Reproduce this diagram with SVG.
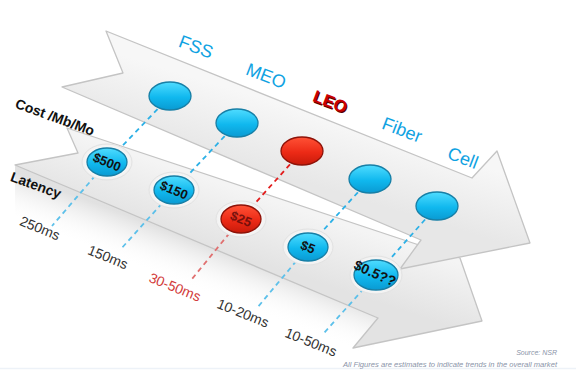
<svg xmlns="http://www.w3.org/2000/svg" width="576" height="381" viewBox="0 0 576 381">
<defs>
<style>
text{font-family:"Liberation Sans",Arial,sans-serif;dominant-baseline:central;text-anchor:middle}
.tech{font-size:18px;fill:#0fa2e2}
.leo{font-size:17px;font-weight:bold;fill:#cc0000}
.leos{font-size:17px;font-weight:bold;fill:#5a0000}
.row{font-size:14px;font-weight:bold;fill:#111}
.lat{font-size:14px;fill:#333;stroke:#fff;stroke-width:3;paint-order:stroke;stroke-linejoin:round}
.latr{font-size:14px;fill:#d23a3a;stroke:#fff;stroke-width:3;paint-order:stroke;stroke-linejoin:round}
.cost{font-size:13px;font-weight:bold;fill:#111}
.src{font-size:7px;font-style:italic;fill:#8a94a8;text-anchor:end;dominant-baseline:auto}
.arrow{stroke:#c4c4c4;stroke-width:1.3;stroke-linejoin:round}
.bb{fill:url(#gBlue);stroke:#177fa6;stroke-width:1.3}
.br{fill:url(#gRed);stroke:#8e1208;stroke-width:1.3}
.halo{fill:url(#gHalo);stroke:#e2e2e2;stroke-width:1}
.db{fill:none;stroke:#2cb0e6;stroke-width:1.8;stroke-dasharray:5 4}
.dbl{fill:none;stroke:#5cc0ea;stroke-width:1.8;stroke-dasharray:5 4}
.dr{fill:none;stroke:#e21c1c;stroke-width:1.8;stroke-dasharray:5 4}
.drl{fill:none;stroke:#e07070;stroke-width:1.8;stroke-dasharray:5 4}
</style>
<linearGradient id="gTop" gradientUnits="userSpaceOnUse" x1="300" y1="110" x2="280" y2="175">
<stop offset="0" stop-color="#f7f7f7"/><stop offset="1" stop-color="#e7e7e7"/></linearGradient>
<linearGradient id="gLow" gradientUnits="userSpaceOnUse" x1="225" y1="185" x2="205" y2="245">
<stop offset="0" stop-color="#f4f4f4"/><stop offset="1" stop-color="#e3e3e3"/></linearGradient>
<linearGradient id="gRefl" gradientUnits="userSpaceOnUse" x1="200" y1="243" x2="184" y2="285">
<stop offset="0" stop-color="#dcdcdc" stop-opacity="0.85"/><stop offset="1" stop-color="#ffffff" stop-opacity="0"/></linearGradient>
<linearGradient id="gBlue" x1="0" y1="0" x2="0" y2="1">
<stop offset="0" stop-color="#4fdcff"/><stop offset="0.55" stop-color="#10b8ee"/><stop offset="1" stop-color="#0a9ad2"/></linearGradient>
<linearGradient id="gRed" x1="0" y1="0" x2="0" y2="1">
<stop offset="0" stop-color="#ff5236"/><stop offset="0.55" stop-color="#ec2a16"/><stop offset="1" stop-color="#c81a0a"/></linearGradient>
<radialGradient id="gHalo">
<stop offset="0.6" stop-color="#ffffff"/><stop offset="1" stop-color="#f0f0f0"/></radialGradient>
</defs>
<rect width="576" height="381" fill="#ffffff"/>
<line x1="0" y1="368.5" x2="576" y2="368.5" stroke="#edf2f8" stroke-width="1.5"/>

<g id="reflection">
<polygon points="15,165 378,318 372,360 15,215" fill="url(#gRefl)"/>
</g>

<g id="arrow-lower">
<polygon class="arrow" fill="url(#gLow)" points="67,128 440,252 460,258 482,321 353,348 378,318 15,165 78,153"/>
</g>

<g id="arrow-upper">
<polygon class="arrow" fill="url(#gTop)" points="106,31 472,178 497,151 530,243 400,269 421,240 62,87 123,73"/>
</g>

<g id="connectors">
<polyline class="db" points="170,96 107,162"/>
<polyline class="dbl" points="107,162 52,226"/>
<polyline class="db" points="237,123 174,190"/>
<polyline class="dbl" points="174,190 120,250"/>
<polyline class="dr" points="302,151 241,219"/>
<polyline class="drl" points="241,219 192,279"/>
<polyline class="db" points="370,179 308,247"/>
<polyline class="dbl" points="308,247 257,308"/>
<polyline class="db" points="437,206 376,275"/>
<polyline class="dbl" points="376,275 324,333"/>
</g>

<g id="node-fss">
<text class="tech" x="196" y="47" transform="rotate(21 196 47)">FSS</text>
<ellipse class="bb" cx="170" cy="96" rx="21" ry="14"/>
</g>
<g id="node-meo">
<text class="tech" x="266" y="76" transform="rotate(21 266 76)">MEO</text>
<ellipse class="bb" cx="237" cy="123" rx="21" ry="14"/>
</g>
<g id="node-leo">
<text class="leos" x="331.2" y="103.3" transform="rotate(21 331 103)">LEO</text>
<text class="leo" x="330" y="102" transform="rotate(21 330 102)">LEO</text>
<ellipse class="br" cx="302" cy="151" rx="21" ry="14"/>
</g>
<g id="node-fiber">
<text class="tech" x="402" y="130" transform="rotate(21 402 130)">Fiber</text>
<ellipse class="bb" cx="370" cy="179" rx="21" ry="14"/>
</g>
<g id="node-cell">
<text class="tech" x="463" y="158" transform="rotate(21 463 158)">Cell</text>
<ellipse class="bb" cx="437" cy="206" rx="21" ry="14"/>
</g>

<g id="row-labels">
<text class="row" x="55" y="117" transform="rotate(20 55 117)">Cost /Mb/Mo</text>
<text class="row" x="36" y="185" transform="rotate(20 36 185)">Latency</text>
</g>

<g id="cost-500">
<ellipse class="halo" cx="107" cy="162" rx="25" ry="18"/>
<ellipse class="bb" cx="107" cy="162" rx="20" ry="14"/>
<text class="cost" x="107" y="162" transform="rotate(22 107 162)">$500</text>
</g>
<g id="cost-150">
<ellipse class="halo" cx="174" cy="190" rx="25" ry="18"/>
<ellipse class="bb" cx="174" cy="190" rx="20" ry="14"/>
<text class="cost" x="174" y="190" transform="rotate(22 174 190)">$150</text>
</g>
<g id="cost-25">
<ellipse class="halo" cx="241" cy="219" rx="25" ry="18"/>
<ellipse class="br" cx="241" cy="219" rx="20" ry="14"/>
<text class="cost" x="241" y="219" fill="#5a0a0a" style="fill:#5a0a0a;opacity:0.8" transform="rotate(22 241 219)">$25</text>
</g>
<g id="cost-5">
<ellipse class="halo" cx="308" cy="247" rx="25" ry="18"/>
<ellipse class="bb" cx="308" cy="247" rx="20" ry="14"/>
<text class="cost" x="308" y="247" transform="rotate(22 308 247)">$5</text>
</g>
<g id="cost-05">
<ellipse class="halo" cx="376" cy="275" rx="26" ry="19"/>
<ellipse class="bb" cx="376" cy="275" rx="22" ry="15"/>
<text class="cost" style="font-size:14px" x="375" y="273" transform="rotate(24 375 273)">$0.5??</text>
</g>

<g id="latency-labels">
<text class="lat" x="40" y="228" transform="rotate(22 40 228)">250ms</text>
<text class="lat" x="108" y="257" transform="rotate(22 108 257)">150ms</text>
<text class="latr" x="175" y="287" transform="rotate(22 175 287)">30-50ms</text>
<text class="lat" x="243" y="313" transform="rotate(22 243 313)">10-20ms</text>
<text class="lat" x="311" y="342" transform="rotate(22 311 342)">10-50ms</text>
</g>

<g id="source">
<text class="src" x="557" y="355">Source:   NSR</text>
<text class="src" x="557" y="366.5" textLength="214" lengthAdjust="spacingAndGlyphs">All Figures are estimates to indicate trends in the overall market</text>
</g>
</svg>
